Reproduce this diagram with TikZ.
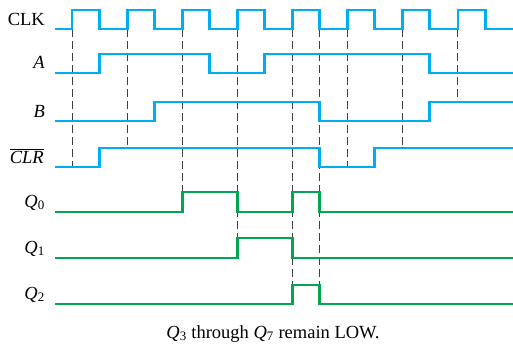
\documentclass[tikz,border=0pt]{standalone}
\usepackage{fontspec}
\setmainfont{Liberation Serif}
\usepackage{xcolor}
\definecolor{sigblue}{RGB}{0,174,239}
\definecolor{siggreen}{RGB}{0,166,81}

\begin{document}
\begin{tikzpicture}[x=1pt,y=-1pt,
  sig/.style={line width=2.9pt,sigblue,line join=miter},
  qsig/.style={line width=2.9pt,siggreen,line join=miter},
  guide/.style={black!75,line width=1pt,dash pattern=on 8pt off 4pt},
  lbl/.style={anchor=base east,inner sep=0pt,font=\fontsize{18.5}{22}\selectfont}]
\useasboundingbox (0,0) rectangle (513,349);
\def\T{55.14}
% edge positions
\def\ra#1{{72+\T*#1}}
\def\fa#1{{99.1+\T*#1}}
\node[lbl] (clk) at (45,25) {CLK};
\node[lbl] (a) at (45,68) {\textit{A}};
\node[lbl] (b) at (45,117) {\textit{B}};
\node[lbl] (clr) at (44,163) {$\overline{\mbox{\textit{CLR}}}$};
\node[lbl] (q0) at (45,207) {\textit{Q}\textsubscript{0}};
\node[lbl] (q1) at (45,253) {\textit{Q}\textsubscript{1}};
\node[lbl] (q2) at (45,299) {\textit{Q}\textsubscript{2}};
\node[font=\fontsize{18.5}{22}\selectfont,anchor=base] (note) at (273,338)
  {\textit{Q}\textsubscript{3} through \textit{Q}\textsubscript{7} remain LOW.};
\draw[guide] (\ra0,29) -- (\ra0,167);
\draw[guide] (\ra1,29) -- (\ra1,148);
\draw[guide] (\ra2,29) -- (\ra2,192);
\draw[guide] (\ra3,29) -- (\ra3,238);
\draw[guide] (\ra4,29) -- (\ra4,285);
\draw[guide] (\fa4,29) -- (\fa4,285);
\draw[guide] (\ra5,29) -- (\ra5,167);
\draw[guide] (\ra6,29) -- (\ra6,148);
\draw[guide] (\ra7,29) -- (\ra7,102);
\draw[sig] (55,29) \foreach \k in {0,...,7}{ -- (\ra\k,29) -- (\ra\k,10) -- (\fa\k,10) -- (\fa\k,29)} -- (513,29);
\draw[sig] (55,73) -- (\fa0,73) -- (\fa0,54) -- (\fa2,54) -- (\fa2,73) -- (\fa3,73) -- (\fa3,54) -- (\fa6,54) -- (\fa6,73) -- (513,73);
\draw[sig] (55,121) -- (\fa1,121) -- (\fa1,102) -- (\fa4,102) -- (\fa4,121) -- (\fa6,121) -- (\fa6,102) -- (513,102);
\draw[sig] (55,167) -- (\fa0,167) -- (\fa0,148) -- (\fa4,148) -- (\fa4,167) -- (\fa5,167) -- (\fa5,148) -- (513,148);
\draw[qsig] (55,212) -- (\ra2,212) -- (\ra2,192) -- (\ra3,192) -- (\ra3,212) -- (\ra4,212) -- (\ra4,192) -- (\fa4,192) -- (\fa4,212) -- (513,212);
\draw[qsig] (55,258) -- (\ra3,258) -- (\ra3,238) -- (\ra4,238) -- (\ra4,258) -- (513,258);
\draw[qsig] (55,304) -- (\ra4,304) -- (\ra4,285) -- (\fa4,285) -- (\fa4,304) -- (513,304);
\end{tikzpicture}
\end{document}
